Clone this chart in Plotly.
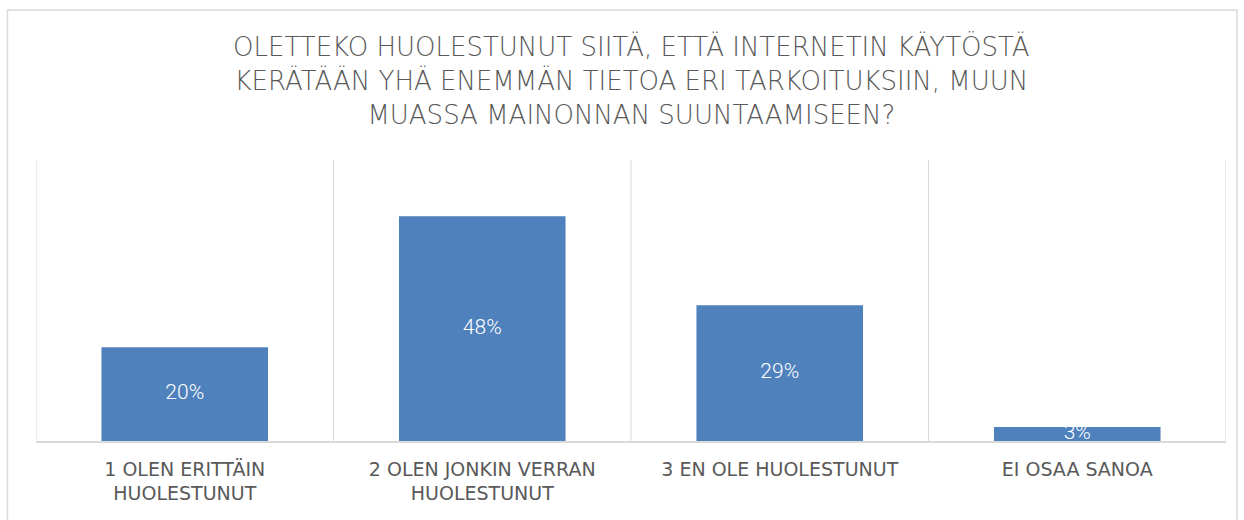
import plotly.graph_objects as go

categories = ["1 OLEN ERITTÄIN<br>HUOLESTUNUT", "2 OLEN JONKIN VERRAN<br>HUOLESTUNUT",
              "3 EN OLE HUOLESTUNUT", "EI OSAA SANOA"]
values = [20, 48, 29, 3]
labels = ["20%", "48%", "29%", "3%"]
title_text = ("OLETTEKO HUOLESTUNUT SIITÄ, ETTÄ INTERNETIN KÄYTÖSTÄ<br>"
              "KERÄTÄÄN YHÄ ENEMMÄN TIETOA ERI TARKOITUKSIIN, MUUN<br>"
              "MUASSA MAINONNAN SUUNTAAMISEEN?")

W, H = 1244, 520
L, R, T, B = 36, 18, 160, 79
pw, ph = W - L - R, H - T - B

fig = go.Figure()
fig.add_trace(go.Bar(x=list(range(len(values))), y=values, width=0.56,
                     marker=dict(color="#4f81bd", line=dict(width=0)),
                     hoverinfo="skip"))
fig.add_trace(go.Scatter(x=list(range(len(values))), y=[v / 2 for v in values],
                         mode="text", text=labels, cliponaxis=True,
                         textfont=dict(color="white", size=21, family="Roboto", weight=300),
                         hoverinfo="skip"))

shapes = []
for i in range(len(values) + 1):
    shapes.append(dict(type="line", xref="x", yref="paper", x0=i - 0.5, x1=i - 0.5,
                       y0=0, y1=1, line=dict(color="#d9d9d9", width=1), layer="below"))
shapes.append(dict(type="rect", xref="paper", yref="paper",
                   x0=(7.5 - L) / pw, x1=(1237 - L) / pw,
                   y0=(H - B - 530) / ph, y1=(H - B - 10) / ph,
                   line=dict(color="#d9d9d9", width=1.5), fillcolor="rgba(0,0,0,0)"))

fig.update_layout(
    width=W, height=H, margin=dict(l=L, r=R, t=T, b=B),
    paper_bgcolor="white", plot_bgcolor="white", showlegend=False,
    shapes=shapes,
    annotations=[dict(text=title_text, xref="paper", yref="paper", x=0.5,
                      y=(H - B - 80) / ph, xanchor="center", yanchor="middle",
                      showarrow=False, align="center",
                      font=dict(family="DejaVu Sans", size=26, color="#595959", weight=200))],
    xaxis=dict(tickmode="array", tickvals=list(range(len(values))), ticktext=categories,
               range=[-0.5, len(values) - 0.5], showgrid=False, zeroline=False,
               showline=True, linecolor="#d9d9d9", linewidth=1.5, ticks="",
               ticklabelstandoff=10,
               tickfont=dict(family="DejaVu Sans", size=19, color="#595959")),
    yaxis=dict(range=[0, 60], visible=False, showgrid=False, zeroline=False),
)

fig.write_html("out.html", config={"displayModeBar": False},
               post_script="document.body.style.margin='0px';")
